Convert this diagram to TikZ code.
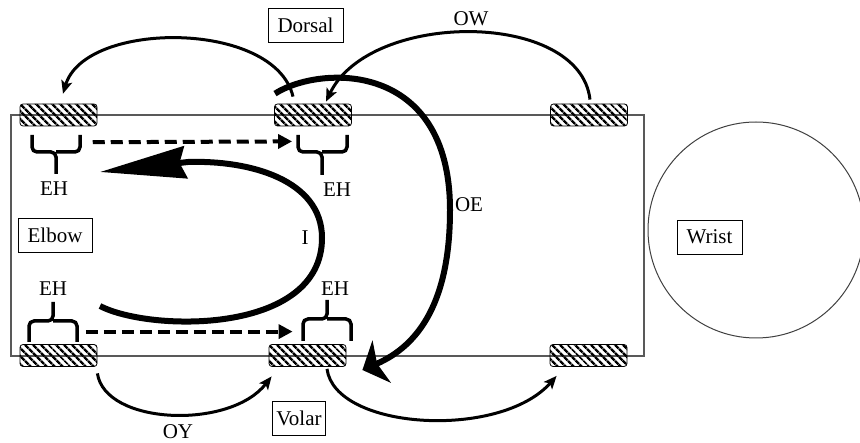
\documentclass[tikz,border=0pt]{standalone}
\usepackage{fontspec}
\setmainfont{Liberation Serif}
\usetikzlibrary{arrows.meta,patterns.meta,calc}
\begin{document}
\begin{tikzpicture}[x=1pt,y=-1pt,
  lbl/.style={font=\fontsize{21}{24}\selectfont, inner sep=0pt},
  boxlbl/.style={draw, line width=0.9pt, font=\fontsize{21}{24}\selectfont, inner sep=0pt, minimum height=34pt},
  pad/.style={draw, line width=0.8pt, rounded corners=3pt, minimum width=77pt, minimum height=22pt, inner sep=0pt,
    fill=white, pattern={Lines[angle=-45,distance=5.4pt,line width=2.5pt]}},
  brace/.style={line width=3.5pt, rounded corners=5pt},
  thinarr/.style={line width=3pt, -{Stealth[length=13pt,width=11pt,inset=3pt]}},
  dasharr/.style={line width=4pt, dash pattern=on 12pt off 6pt, -{Triangle[length=14pt,width=14pt]}},
  thickarr/.style={line width=6pt}
]
\useasboundingbox (0,0) rectangle (860,443);
% forearm outline
\draw[line width=1.2pt, color=black!65] (11,115) rectangle (644,356);
% wrist circle
\begin{scope}
\clip (0,0) rectangle (860,443);
\draw[line width=1pt, color=black!75] (756,230) circle (108);
\end{scope}
% pads
\node[pad] (tl) at (58.5,115) {};
\node[pad] (tm) at (313,115) {};
\node[pad] (tr) at (589,115) {};
\node[pad] (bl) at (58.5,355.5) {};
\node[pad] (bm) at (307.5,355.5) {};
\node[pad] (br) at (588.5,355.5) {};
% labels in boxes
\node[boxlbl, minimum width=75pt] (dorsal) at (305.5,25) {Dorsal};
\node[boxlbl, minimum width=74pt] (elbow) at (55,235) {Elbow};
\node[boxlbl, minimum width=65pt] (wrist) at (709.5,237) {Wrist};
\node[boxlbl, minimum width=53pt] (volar) at (299,418) {Volar};
% braces
\draw[brace] (32,135) |- (56,152) -- (56,174);
\draw[brace] (80,135) |- (56,152);
\draw[brace] (298,135) |- (322,152) -- (322,175);
\draw[brace] (347,135) |- (322,152);
\draw[brace] (29,342) |- (53,321) -- (53,302);
\draw[brace] (77,342) |- (53,321);
\draw[brace] (303,341) |- (327,319) -- (327,300);
\draw[brace] (351,341) |- (327,319);
\node[lbl] (eh1) at (54,189) {EH};
\node[lbl] (eh2) at (337,190) {EH};
\node[lbl] (eh3) at (53,289) {EH};
\node[lbl] (eh4) at (335,289) {EH};
% dashed arrows
\draw[dasharr] ($(tl.south east)+(-5.5,15)$) -- ($(tm.south west)+(18,15)$);
\draw[dasharr] ($(bl.north east)+(-11.5,-12.5)$) -- ($(bm.north west)+(24,-12.5)$);
% top-left arc
\draw[thinarr] ($(tm.north)+(-20,-7)$) .. controls (275,20) and (85,20) .. ($(tl.north)+(4.5,-9)$);
% OW
\draw[thinarr] ($(tr.north)+(1,-4)$) .. controls (580,10) and (370,10) .. ($(tm.north)+(13,-2)$);
\node[lbl] (ow) at (471,19) {OW};
% OY
\draw[thinarr] ($(bl.south east)+(0,6.5)$) .. controls (105,425) and (230,430) .. ($(bm.south west)+(3,9.5)$);
\node[lbl] (oy) at (178,432) {OY};
% bottom right arc
\draw[thinarr] ($(bm.south)+(19.5,2)$) .. controls (335,430) and (500,440) .. ($(br.south west)+(7,9)$);
% OE
\draw[thickarr, -{Stealth[length=21pt,width=46pt,inset=5pt]}]
  ($(tm.north)+(-38,-10)$) .. controls (320,65) and (450,60) .. (450,210)
  .. controls (450,300) and (420,345) .. ($(bm.east)+(16,14.5)$);
\node[lbl] (oe) at (469,205) {OE};
% I
\coordinate (Is) at (100,306);
\coordinate (Ie) at (100,172);
\draw[thickarr, -{Stealth[length=86pt,width=32pt,inset=6pt]}]
  (Is) .. controls (150,332) and (322,335) .. (322,238)
  .. controls (322,180) and (250,160) .. (188,162) -- (Ie);
\node[lbl] (ii) at (305,238) {I};
\end{tikzpicture}
\end{document}
